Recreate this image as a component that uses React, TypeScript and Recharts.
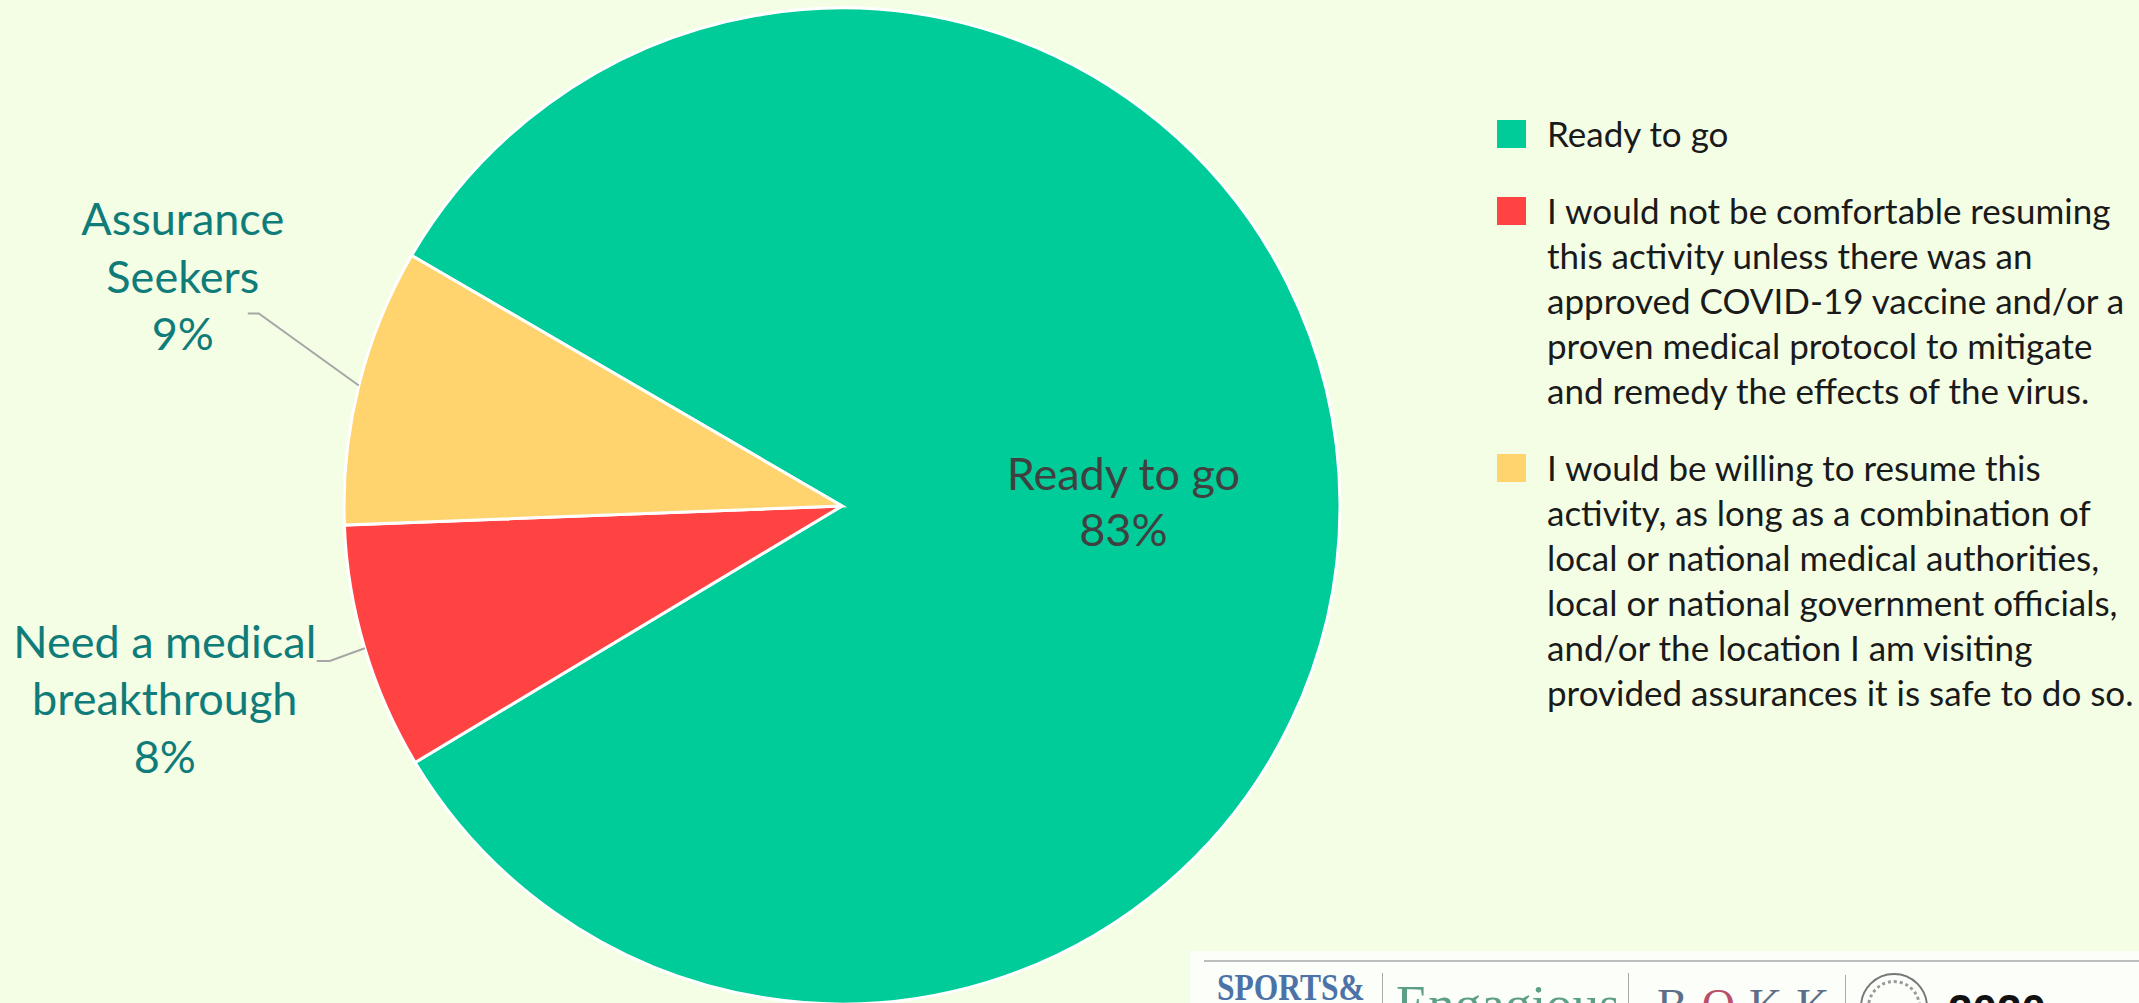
import React from 'react';
import { PieChart, Pie, Cell, Legend } from 'recharts';

const categories = ['Ready to go', 'Need a medical breakthrough', 'Assurance Seekers'];
const values = [83, 8, 9];
const colors = ['#00CC99', '#FF4343', '#FFD36E'];
const sliceLabelLines = [
  ['Ready to go'],
  ['Need a medical', 'breakthrough'],
  ['Assurance', 'Seekers'],
];
const legendLines = [
  ['Ready to go'],
  [
    'I would not be comfortable resuming',
    'this activity unless there was an',
    'approved COVID-19 vaccine and/or a',
    'proven medical protocol to mitigate',
    'and remedy the effects of the virus.',
  ],
  [
    'I would be willing to resume this',
    'activity, as long as a combination of',
    'local or national medical authorities,',
    'local or national government officials,',
    'and/or the location I am visiting',
    'provided assurances it is safe to do so.',
  ],
];

const data = categories.map((name, i) => ({ name, value: values[i] }));

const BG = '#F4FEE5';
const TEAL = '#107C79';
const FONT = 'Lato, "Open Sans", sans-serif';
const RAD = Math.PI / 180;

const polar = (cx: number, cy: number, r: number, a: number) => ({
  x: cx + r * Math.cos(-a * RAD),
  y: cy + r * Math.sin(-a * RAD),
});

const renderLabel = (props: any) => {
  const { cx, cy, midAngle, outerRadius, index, value } = props;
  const lines = sliceLabelLines[index];
  if (index === 0) {
    const p = polar(cx, cy, outerRadius * 0.565, midAngle);
    return (
      <text textAnchor="middle" fill="#404040" fontSize={45} fontFamily={FONT}>
        <tspan x={p.x} y={p.y - 14}>{lines[0]}</tspan>
        <tspan x={p.x} y={p.y + 42}>{`${value}%`}</tspan>
      </text>
    );
  }
  const p0 = polar(cx, cy, outerRadius, midAngle);
  let p1, p2, tx, ys;
  if (index === 2) {
    p1 = { x: p0.x - 100, y: p0.y - 72 };
    p2 = { x: p1.x - 11, y: p1.y };
    tx = p2.x - 65;
    ys = [p2.y - 78.5, p2.y - 20.5, p2.y + 36.5];
  } else {
    p1 = { x: p0.x - 35, y: p0.y + 12.7 };
    p2 = { x: p1.x - 13, y: p1.y };
    tx = p2.x - 152;
    ys = [p2.y - 3, p2.y + 54, p2.y + 112];
  }
  return (
    <g>
      <polyline
        points={`${p0.x},${p0.y} ${p1.x},${p1.y} ${p2.x},${p2.y}`}
        fill="none"
        stroke="#A6A6A6"
        strokeWidth={2}
      />
      <text textAnchor="middle" fill={TEAL} fontSize={45} fontFamily={FONT}>
        <tspan x={tx} y={ys[0]}>{lines[0]}</tspan>
        <tspan x={tx} y={ys[1]}>{lines[1]}</tspan>
        <tspan x={tx} y={ys[2]}>{`${value}%`}</tspan>
      </text>
    </g>
  );
};

const renderLegend = () => (
  <div style={{ fontFamily: FONT, fontSize: 35, color: '#1A1A1A' }}>
    {legendLines.map((lines, i) => (
      <div key={i} style={{ position: 'relative', paddingLeft: 50, marginTop: i === 0 ? 0 : 32 }}>
        <div
          style={{
            position: 'absolute',
            left: 0,
            top: 9,
            width: 29,
            height: 28,
            background: colors[i],
          }}
        />
        {lines.map((l, j) => (
          <div key={j} style={{ lineHeight: '45px', height: 45, whiteSpace: 'nowrap' }}>
            {l}
          </div>
        ))}
      </div>
    ))}
  </div>
);

const LogoBanner = () => (
  <div
    style={{
      position: 'absolute',
      left: 1190,
      top: 951,
      width: 949,
      height: 52,
      background: '#FCFEF9',
      overflow: 'hidden',
      fontFamily: '"Liberation Serif", serif',
    }}
  >
    <div style={{ position: 'absolute', left: 14, top: 9, right: 0, height: 2, background: '#BDBDBD' }} />
    <div
      style={{
        position: 'absolute',
        left: 27,
        top: 17,
        fontSize: 38,
        lineHeight: '38px',
        fontWeight: 700,
        color: '#4C73A8',
        transform: 'scaleX(0.83)',
        transformOrigin: 'left top',
        whiteSpace: 'nowrap',
      }}
    >
      SPORTS&amp;
    </div>
    <div style={{ position: 'absolute', left: 192, top: 22, width: 1, height: 40, background: '#AAAAAA' }} />
    <div
      style={{
        position: 'absolute',
        left: 206,
        top: 27,
        fontSize: 53,
        lineHeight: '53px',
        color: '#5C9E86',
        whiteSpace: 'nowrap',
      }}
    >
      Engagious
    </div>
    <div style={{ position: 'absolute', left: 438, top: 22, width: 1, height: 40, background: '#AAAAAA' }} />
    <div
      style={{
        position: 'absolute',
        left: 467,
        top: 32,
        fontSize: 46,
        lineHeight: '46px',
        color: '#5E6E86',
        letterSpacing: 14,
        whiteSpace: 'nowrap',
      }}
    >
      B<span style={{ color: '#B8506A' }}>O</span>KK
    </div>
    <div style={{ position: 'absolute', left: 655, top: 24, width: 1, height: 40, background: '#AAAAAA' }} />
    <div
      style={{
        position: 'absolute',
        left: 670,
        top: 22,
        width: 68,
        height: 68,
        borderRadius: '50%',
        border: '2px solid #777',
        boxSizing: 'border-box',
      }}
    >
      <div
        style={{
          position: 'absolute',
          left: 5,
          top: 5,
          right: 5,
          bottom: 5,
          borderRadius: '50%',
          border: '3px dotted #999',
        }}
      />
    </div>
    <div
      style={{
        position: 'absolute',
        left: 758,
        top: 38,
        fontSize: 44,
        lineHeight: '44px',
        fontWeight: 700,
        color: '#111',
        fontFamily: '"Liberation Sans", sans-serif',
        whiteSpace: 'nowrap',
      }}
    >
      2020
      <span style={{ fontSize: 20, fontWeight: 400, marginLeft: 10, letterSpacing: 4 }}>BACK TO</span>
    </div>
  </div>
);

export default function App() {
  return (
    <div
      style={{
        position: 'absolute',
        left: 0,
        top: 0,
        width: 2139,
        height: 1003,
        background: BG,
        overflow: 'hidden',
      }}
    >
      <PieChart width={2139} height={1003} margin={{ top: 0, right: 0, bottom: 0, left: 0 }}>
        <Pie
          data={data}
          dataKey="value"
          nameKey="name"
          cx={842}
          cy={506}
          outerRadius={498}
          startAngle={149.8}
          endAngle={-210.2}
          stroke="#FFFFFF"
          strokeWidth={3}
          label={renderLabel}
          labelLine={false}
          isAnimationActive={false}
        >
          {data.map((d, i) => (
            <Cell key={d.name} fill={colors[i]} />
          ))}
        </Pie>
        <Legend
          content={renderLegend}
          layout="vertical"
          align="right"
          verticalAlign="top"
          wrapperStyle={{ position: 'absolute', left: 1497, top: 111, width: 640 }}
        />
      </PieChart>
      <LogoBanner />
    </div>
  );
}
